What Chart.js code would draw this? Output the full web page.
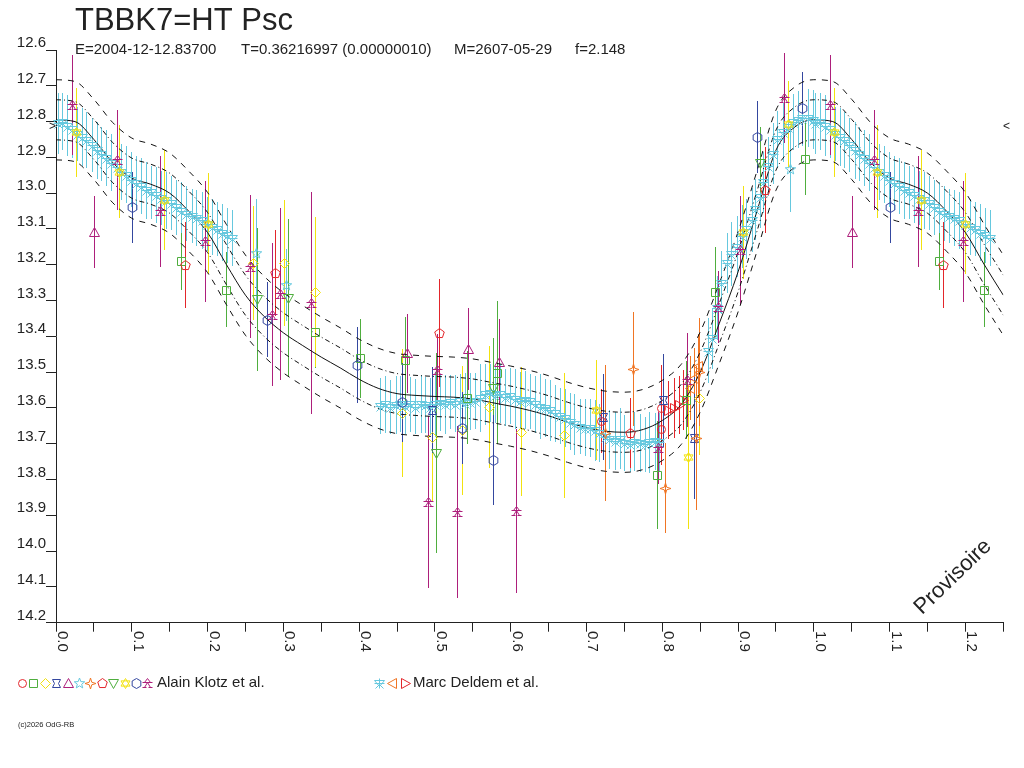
<!DOCTYPE html>
<html>
<head>
<meta charset="utf-8">
<script src="https://cdn.jsdelivr.net/npm/chart.js@4.4.1/dist/chart.umd.min.js"></script>
<style>
html, body { margin: 0; padding: 0; background: #fff; }
canvas { display: block; }
</style>
</head>
<body>
<canvas id="graphique" width="1024" height="768"></canvas>
<script>
// ---- courbe ajustee (phase 0..1) ----
var FIT_PHASE = [0.000, 0.025, 0.050, 0.075, 0.100, 0.125, 0.150, 0.175, 0.200, 0.225,
  0.250, 0.275, 0.300, 0.325, 0.350, 0.375, 0.400, 0.425, 0.450, 0.475,
  0.500, 0.525, 0.550, 0.575, 0.600, 0.625, 0.650, 0.675, 0.700, 0.725,
  0.750, 0.775, 0.800, 0.825, 0.850, 0.875, 0.900, 0.925, 0.950, 0.975, 1.000];
var FIT_MAG = [12.795, 12.800, 12.850, 12.915, 12.958, 12.975, 13.000, 13.050, 13.110, 13.200,
  13.285, 13.345, 13.390, 13.425, 13.458, 13.488, 13.520, 13.545, 13.560, 13.565,
  13.568, 13.570, 13.575, 13.585, 13.595, 13.607, 13.622, 13.640, 13.655, 13.665,
  13.668, 13.660, 13.635, 13.590, 13.500, 13.365, 13.220, 13.050, 12.880, 12.815, 12.795];
var SIGMA_1 = 0.056;
var SIGMA_2 = 0.112;

// ---- Marc Deldem et al. ----
var DELDEM_PHASE = [
  0.002, 0.008, 0.015, 0.021, 0.028, 0.034, 0.040, 0.047, 0.054, 0.060, 0.066, 0.073,
  0.080, 0.086, 0.093, 0.099, 0.106, 0.112, 0.119, 0.125, 0.132, 0.139, 0.145, 0.152,
  0.159, 0.165, 0.172, 0.179, 0.185, 0.192, 0.199, 0.206, 0.212, 0.219, 0.226, 0.232,
  0.428, 0.434, 0.441, 0.448, 0.454, 0.461, 0.467, 0.474, 0.481, 0.487, 0.494, 0.500,
  0.507, 0.513, 0.520, 0.527, 0.533, 0.540, 0.546, 0.553, 0.560, 0.566, 0.573, 0.579,
  0.586, 0.593, 0.599, 0.606, 0.612, 0.619, 0.625, 0.632, 0.639, 0.645, 0.652, 0.658,
  0.665, 0.671, 0.678, 0.684, 0.691, 0.698, 0.704, 0.711, 0.717, 0.724, 0.730, 0.737,
  0.744, 0.750, 0.757, 0.763, 0.770, 0.777, 0.783, 0.790, 0.796,
  0.860, 0.866, 0.872, 0.878, 0.885, 0.891, 0.898, 0.905, 0.911, 0.918, 0.922, 0.929,
  0.933, 0.939, 0.946, 0.952, 0.959, 0.966, 0.972, 0.979, 0.985, 0.992, 0.999];
var DELDEM_MAG = [
  12.805, 12.800, 12.812, 12.822, 12.835, 12.843, 12.852, 12.865, 12.880, 12.890, 12.902, 12.915,
  12.928, 12.940, 12.948, 12.962, 12.972, 12.981, 12.992, 12.998, 13.006, 13.013, 13.020, 13.028,
  13.040, 13.050, 13.057, 13.064, 13.070, 13.076, 13.086, 13.095, 13.101, 13.110, 13.118, 13.125,
  13.595, 13.590, 13.598, 13.592, 13.588, 13.594, 13.590, 13.596, 13.589, 13.592, 13.596, 13.590,
  13.586, 13.590, 13.584, 13.588, 13.582, 13.586, 13.583, 13.580, 13.572, 13.562, 13.558, 13.565,
  13.560, 13.570, 13.566, 13.575, 13.580, 13.578, 13.582, 13.590, 13.596, 13.600, 13.606, 13.615,
  13.622, 13.628, 13.638, 13.646, 13.652, 13.655, 13.656, 13.662, 13.670, 13.680, 13.688, 13.692,
  13.686, 13.697, 13.700, 13.694, 13.698, 13.702, 13.696, 13.693, 13.695,
  13.440, 13.405, 13.320, 13.250, 13.195, 13.170, 13.150, 13.120, 13.100, 13.075, 13.045, 13.010,
  12.970, 12.925, 12.890, 12.850, 12.830, 12.815, 12.800, 12.795, 12.790, 12.790, 12.795];
var DELDEM_ERR = [
  0.085, 0.080, 0.085, 0.080, 0.075, 0.080, 0.078, 0.075, 0.080, 0.076, 0.078, 0.080,
  0.075, 0.078, 0.080, 0.076, 0.075, 0.078, 0.080, 0.075, 0.078, 0.076, 0.080, 0.075,
  0.078, 0.080, 0.076, 0.075, 0.078, 0.080, 0.076, 0.078, 0.075, 0.080, 0.076, 0.078,
  0.078, 0.080, 0.076, 0.082, 0.078, 0.080, 0.076, 0.078, 0.082, 0.078, 0.080, 0.090,
  0.078, 0.082, 0.076, 0.080, 0.078, 0.085, 0.080, 0.078, 0.095, 0.085, 0.080, 0.078,
  0.082, 0.080, 0.078, 0.085, 0.080, 0.082, 0.078, 0.080, 0.090, 0.082, 0.085, 0.080,
  0.078, 0.082, 0.080, 0.085, 0.078, 0.080, 0.082, 0.085, 0.080, 0.078, 0.082, 0.080,
  0.085, 0.078, 0.080, 0.082, 0.080, 0.078, 0.085, 0.080, 0.082,
  0.090, 0.085, 0.090, 0.088, 0.085, 0.090, 0.085, 0.088, 0.085, 0.090, 0.085, 0.088,
  0.085, 0.082, 0.085, 0.080, 0.082, 0.080, 0.078, 0.080, 0.078, 0.080, 0.082];
var DELDEM_ORANGE_PHASE = [0.836, 0.842, 0.847];
var DELDEM_ORANGE_MAG = [13.545, 13.517, 13.483];
var DELDEM_ORANGE_ERR = [0.090, 0.085, 0.090];
var DELDEM_ROUGE_PHASE = [0.807, 0.815, 0.822, 0.828];
var DELDEM_ROUGE_MAG = [13.606, 13.600, 13.592, 13.578];
var DELDEM_ROUGE_ERR = [0.080, 0.085, 0.080, 0.085];

// ---- Alain Klotz et al. (KLOTZ_SYM = indice du symbole de la legende) ----
var KLOTZ_PHASE = [0.021, 0.026, 0.050, 0.080, 0.083, 0.100, 0.137, 0.142, 0.165, 0.170,
  0.197, 0.200, 0.224, 0.256, 0.260, 0.264, 0.265, 0.289, 0.278, 0.285,
  0.301, 0.295, 0.303, 0.306, 0.336, 0.342, 0.342, 0.397, 0.401, 0.463,
  0.460, 0.456, 0.456, 0.505, 0.503, 0.496, 0.496, 0.501, 0.491, 0.529,
  0.543, 0.542, 0.536, 0.536, 0.582, 0.584, 0.576, 0.576, 0.572, 0.613,
  0.607, 0.670, 0.712, 0.724, 0.722, 0.757, 0.762, 0.793, 0.798, 0.801,
  0.798, 0.795, 0.803, 0.832, 0.831, 0.834, 0.844, 0.849, 0.848, 0.842,
  0.869, 0.873, 0.902, 0.906, 0.929, 0.935, 0.925, 0.960, 0.966, 0.968,
  0.984, 0.988, 0.719];
var KLOTZ_MAG = [12.754, 12.830, 13.108, 12.907, 12.940, 13.040, 13.050, 13.020, 13.190, 13.200,
  13.135, 13.085, 13.270, 13.205, 13.195, 13.167, 13.296, 13.223, 13.354, 13.340,
  13.195, 13.282, 13.257, 13.293, 13.307, 13.276, 13.388, 13.480, 13.461, 13.447,
  13.466, 13.584, 13.614, 13.391, 13.494, 13.606, 13.681, 13.726, 13.863, 13.891,
  13.435, 13.572, 13.656, 13.662, 13.502, 13.472, 13.544, 13.746, 13.597, 13.667,
  13.888, 13.676, 13.606, 13.670, 13.625, 13.670, 13.491, 13.787, 13.600, 13.578,
  13.659, 13.712, 13.824, 13.522, 13.578, 13.737, 13.684, 13.572, 13.500, 13.684,
  13.276, 13.318, 13.159, 13.109, 12.916, 12.991, 12.843, 12.734, 12.807, 12.932,
  12.762, 12.905, 13.637];
var KLOTZ_ERR = [0.140, 0.125, 0.100, 0.140, 0.130, 0.100, 0.155, 0.140, 0.080, 0.120,
  0.170, 0.140, 0.105, 0.200, 0.160, 0.150, 0.200, 0.120, 0.105, 0.200,
  0.175, 0.240, 0.100, 0.220, 0.310, 0.210, 0.100, 0.105, 0.110, 0.110,
  0.120, 0.110, 0.180, 0.150, 0.100, 0.120, 0.180, 0.280, 0.240, 0.240,
  0.115, 0.130, 0.100, 0.180, 0.200, 0.120, 0.140, 0.125, 0.170, 0.180,
  0.230, 0.175, 0.140, 0.190, 0.120, 0.097, 0.160, 0.150, 0.120, 0.130,
  0.100, 0.100, 0.125, 0.130, 0.110, 0.200, 0.200, 0.160, 0.150, 0.170,
  0.125, 0.100, 0.150, 0.130, 0.100, 0.120, 0.100, 0.125, 0.120, 0.120,
  0.100, 0.100, 0.090];
var KLOTZ_SYM = [11, 9, 4, 11, 9, 10, 11, 9, 1, 7,
  11, 9, 1, 11, 2, 5, 8, 7, 10, 11,
  2, 11, 5, 8, 11, 2, 1, 10, 1, 4,
  1, 10, 2, 7, 11, 3, 2, 8, 11, 11,
  4, 1, 10, 2, 1, 4, 8, 10, 2, 2,
  11, 2, 9, 6, 3, 7, 6, 1, 0, 3,
  0, 11, 6, 11, 1, 9, 6, 2, 6, 3,
  1, 11, 11, 9, 8, 7, 10, 11, 9, 5,
  10, 1, 0];

var X_TICK_VALEURS = [0.0, 0.1, 0.2, 0.3, 0.4, 0.5, 0.6, 0.7, 0.8, 0.9, 1.0, 1.1, 1.2];
var X_TICK_LABELS = ['0.0', '0.1', '0.2', '0.3', '0.4', '0.5', '0.6', '0.7', '0.8', '0.9', '1.0', '1.1', '1.2'];
var MAG_MAXI = 12.815; // reperes > et <

var PHASE_MAX = 1.25;
var POLICE = "'Liberation Sans', Arial, sans-serif";
var ENCRE = '#222';

var ROUGE = '#e3262b', VERT = '#4fae3e', JAUNE = '#f2e20f', BLEU = '#34479f',
    VIOLET = '#ad1f7b', CYAN = '#66c8de', ORANGE = '#f07524';
var KLOTZ_FORMES = ['cercle', 'carre', 'losange', 'sablier', 'triangle', 'etoile',
  'etoile4', 'pentagone', 'triangleBas', 'etoile6', 'hexagone', 'ankh'];
var KLOTZ_COULEURS = [ROUGE, VERT, JAUNE, BLEU, VIOLET, CYAN, ORANGE, ROUGE, VERT, JAUNE, BLEU, VIOLET];

// ---- symboles ----
function poly(c, pts) {
  c.moveTo(pts[0][0], pts[0][1]);
  for (var i = 1; i < pts.length; i++) c.lineTo(pts[i][0], pts[i][1]);
  c.closePath();
}
function polygone(c, n, r, r2) {
  var pts = [];
  var m = r2 ? n * 2 : n;
  for (var i = 0; i < m; i++) {
    var a = -Math.PI / 2 + i * Math.PI * 2 / m;
    var rr = (r2 && i % 2) ? r2 : r;
    pts.push([rr * Math.cos(a), rr * Math.sin(a)]);
  }
  poly(c, pts);
}
function tracerSymbole(c, forme, x, y, couleur) {
  c.save();
  c.translate(x, y);
  c.strokeStyle = couleur;
  c.lineWidth = 1;
  c.beginPath();
  switch (forme) {
    case 'cercle': c.arc(0, 0, 4, 0, Math.PI * 2); break;
    case 'carre': c.rect(-4, -4, 8, 8); break;
    case 'losange': poly(c, [[0, -5], [5, 0], [0, 5], [-5, 0]]); break;
    case 'sablier': poly(c, [[-4, -4], [4, -4], [2, 0], [4, 4], [-4, 4], [-2, 0]]); break;
    case 'triangle': poly(c, [[0, -5], [5, 4], [-5, 4]]); break;
    case 'triangleBas': poly(c, [[0, 5], [5, -4], [-5, -4]]); break;
    case 'etoile': polygone(c, 5, 5.5, 2.3); break;
    case 'etoile4': polygone(c, 4, 5.5, 1.8); break;
    case 'pentagone': polygone(c, 5, 5); break;
    case 'hexagone': polygone(c, 6, 5); break;
    case 'etoile6':
      poly(c, [[0, -5], [4.5, 2.6], [-4.5, 2.6]]);
      poly(c, [[0, 5], [4.5, -2.6], [-4.5, -2.6]]);
      break;
    case 'ankh':
      poly(c, [[-3, -1], [0, -5], [3, -1]]);
      c.moveTo(-5, -1); c.lineTo(5, -1);
      c.moveTo(0, -1); c.lineTo(-3, 4); c.moveTo(0, -1); c.lineTo(3, 4);
      c.moveTo(-5, 4); c.lineTo(-1, 4); c.moveTo(1, 4); c.lineTo(5, 4);
      break;
    case 'deldem':
      poly(c, [[-5, -3], [5, -3], [0, 3]]);
      c.moveTo(0, -5); c.lineTo(0, 5);
      c.moveTo(-4, 5); c.lineTo(0, 1); c.lineTo(4, 5);
      c.moveTo(-5, 0); c.lineTo(5, 0);
      break;
    case 'triGauche': poly(c, [[-5, 0], [4, -5], [4, 5]]); break;
    case 'triDroite': poly(c, [[5, 0], [-4, -5], [-4, 5]]); break;
  }
  c.stroke();
  c.restore();
}

// repli en phase : on recopie ce qui tombe entre 1.0 et 1.25
function replier(phases, mags, errs) {
  var pts = [], e = [];
  var fin = phases[phases.length - 1];
  for (var k = 0; k < 2; k++) {
    for (var i = 0; i < phases.length; i++) {
      var x = phases[i] + k;
      if (x > PHASE_MAX) continue;
      if (k === 1 && x <= fin) continue;
      pts.push({ x: x, y: mags[i] });
      e.push(errs ? errs[i] : 0);
    }
  }
  return { data: pts, erreurs: e };
}

var datasets = [];

function courbe(decalage, tirets) {
  var mags = FIT_MAG.map(function (m) { return m + decalage; });
  return {
    data: replier(FIT_PHASE, mags).data,
    showLine: true, pointRadius: 0, borderColor: '#111', borderWidth: 1,
    borderDash: tirets, cubicInterpolationMode: 'monotone', fill: false, order: 10
  };
}
datasets.push(courbe(0, []));
datasets.push(courbe(-SIGMA_1, [5, 3, 1, 3]));
datasets.push(courbe(SIGMA_1, [5, 3, 1, 3]));
datasets.push(courbe(-SIGMA_2, [6, 6]));
datasets.push(courbe(SIGMA_2, [6, 6]));

// les symboles sont traces par le plugin "symboles" aux positions calculees par Chart.js
function serie(phases, mags, errs, forme, couleur) {
  var r = replier(phases, mags, errs);
  return {
    data: r.data, erreurs: r.erreurs, couleur: couleur, forme: forme,
    pointRadius: 0, showLine: false
  };
}
datasets.push(serie(DELDEM_PHASE, DELDEM_MAG, DELDEM_ERR, 'deldem', CYAN));
datasets.push(serie(DELDEM_ORANGE_PHASE, DELDEM_ORANGE_MAG, DELDEM_ORANGE_ERR, 'triGauche', ORANGE));
datasets.push(serie(DELDEM_ROUGE_PHASE, DELDEM_ROUGE_MAG, DELDEM_ROUGE_ERR, 'triDroite', ROUGE));

KLOTZ_FORMES.forEach(function (forme, s) {
  var ph = [], mg = [], er = [];
  KLOTZ_SYM.forEach(function (k, i) {
    if (k === s) { ph.push(KLOTZ_PHASE[i]); mg.push(KLOTZ_MAG[i]); er.push(KLOTZ_ERR[i]); }
  });
  datasets.push(serie(ph, mg, er, forme, KLOTZ_COULEURS[s]));
});

// barres d'erreur, tracees avant les courbes
var barresErreur = {
  id: 'barresErreur',
  beforeDatasetsDraw: function (chart) {
    var c = chart.ctx, xs = chart.scales.x, ys = chart.scales.y, a = chart.chartArea;
    c.save();
    c.beginPath(); c.rect(a.left, a.top, a.right - a.left, a.bottom - a.top); c.clip();
    c.lineWidth = 1;
    chart.data.datasets.forEach(function (ds) {
      if (!ds.erreurs) return;
      c.strokeStyle = ds.couleur;
      ds.data.forEach(function (p, j) {
        var x = Math.round(xs.getPixelForValue(p.x)) + 0.5;
        c.beginPath();
        c.moveTo(x, Math.round(ys.getPixelForValue(p.y - ds.erreurs[j])));
        c.lineTo(x, Math.round(ys.getPixelForValue(p.y + ds.erreurs[j])));
        c.stroke();
      });
    });
    c.restore();
  }
};

// symboles nets, poses sur les elements calcules par Chart.js
var symboles = {
  id: 'symboles',
  afterDatasetsDraw: function (chart) {
    var c = chart.ctx;
    chart.data.datasets.forEach(function (ds, i) {
      if (!ds.forme) return;
      chart.getDatasetMeta(i).data.forEach(function (el) {
        tracerSymbole(c, ds.forme, Math.round(el.x) + 0.5, Math.round(el.y) + 0.5, ds.couleur);
      });
    });
  }
};

// titres, etiquettes de phase, legende
var decor = {
  id: 'decor',
  afterDraw: function (chart) {
    var c = chart.ctx, xs = chart.scales.x, ys = chart.scales.y;
    c.save();
    c.fillStyle = ENCRE;
    c.textAlign = 'left';
    c.textBaseline = 'alphabetic';

    c.font = '31px ' + POLICE;
    c.fillText('TBBK7=HT Psc', 75, 30);

    c.font = '15px ' + POLICE;
    c.fillText('E=2004-12-12.83700', 75, 54);
    c.fillText('T=0.36216997 (0.00000010)', 241, 54);
    c.fillText('M=2607-05-29', 454, 54);
    c.fillText('f=2.148', 575, 54);

    // etiquettes de l'axe des phases, ecrites de haut en bas
    X_TICK_VALEURS.forEach(function (v, i) {
      c.save();
      c.translate(Math.round(xs.getPixelForValue(v)) + 2, 631);
      c.rotate(Math.PI / 2);
      c.fillText(X_TICK_LABELS[i], 0, 0);
      c.restore();
    });

    // reperes du maximum
    var ym = ys.getPixelForValue(MAG_MAXI);
    c.font = '12px ' + POLICE;
    c.textBaseline = 'middle';
    c.fillText('>', 49, ym);
    c.fillText('<', 1003, ym);

    // legende
    var yl = 683;
    KLOTZ_FORMES.forEach(function (f, i) {
      tracerSymbole(c, f, Math.round(22 + i * 11.4) + 0.5, yl + 0.5, KLOTZ_COULEURS[i]);
    });
    tracerSymbole(c, 'deldem', 379.5, yl + 0.5, CYAN);
    tracerSymbole(c, 'triGauche', 392.5, yl + 0.5, ORANGE);
    tracerSymbole(c, 'triDroite', 405.5, yl + 0.5, ROUGE);
    c.fillStyle = ENCRE;
    c.font = '15px ' + POLICE;
    c.fillText('Alain Klotz et al.', 157, yl);
    c.fillText('Marc Deldem et al.', 413, yl);

    c.font = '7.5px ' + POLICE;
    c.fillText('(c)2026 OdG-RB', 18, 725);

    c.save();
    c.translate(953, 577);
    c.rotate(-44 * Math.PI / 180);
    c.font = '22px ' + POLICE;
    c.textAlign = 'center';
    c.fillText('Provisoire', 0, 0);
    c.restore();

    c.restore();
  }
};

var ctx = document.getElementById('graphique').getContext('2d');
var chart = new Chart(ctx, {
  type: 'scatter',
  data: { datasets: datasets },
  options: {
    responsive: false,
    animation: false,
    devicePixelRatio: 1,
    events: [],
    layout: { padding: { top: 50, left: 0, right: 20.7, bottom: 0 } },
    plugins: { legend: { display: false }, tooltip: { enabled: false } },
    scales: {
      x: {
        type: 'linear', min: 0, max: PHASE_MAX,
        afterFit: function (s) { s.height = 145.3; },
        ticks: { display: false, stepSize: 0.05, autoSkip: false },
        grid: { drawOnChartArea: false, drawTicks: true, tickLength: 9, color: ENCRE },
        border: { display: true, color: ENCRE, width: 1 }
      },
      y: {
        type: 'linear', reverse: true, min: 12.6, max: 14.2,
        afterFit: function (s) { s.width = 56; },
        ticks: {
          stepSize: 0.1, autoSkip: false, padding: 0, labelOffset: -7, color: ENCRE,
          font: { family: POLICE, size: 15 },
          callback: function (v) { return v.toFixed(1); }
        },
        grid: { drawOnChartArea: false, drawTicks: true, tickLength: 10, color: ENCRE },
        border: { display: true, color: ENCRE, width: 1 }
      }
    }
  },
  plugins: [barresErreur, symboles, decor]
});
</script>
</body>
</html>
